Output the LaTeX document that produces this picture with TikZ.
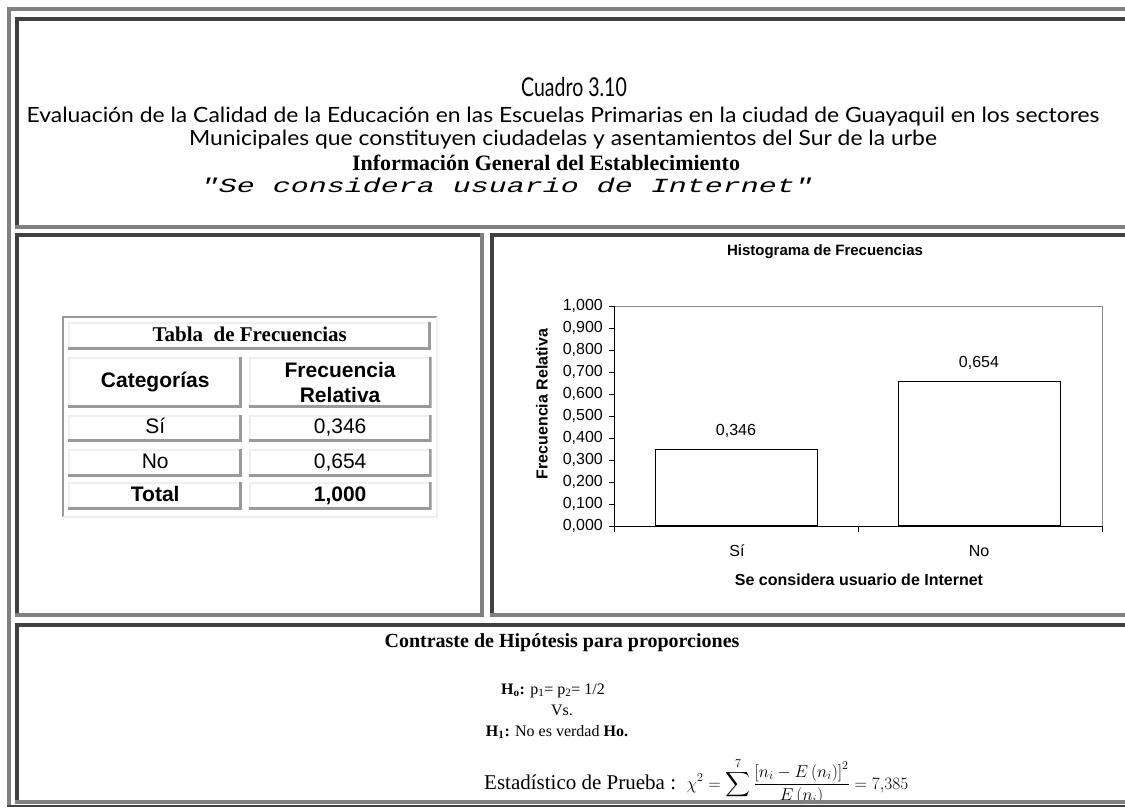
\documentclass[tikz,border=0pt]{standalone}
\usepackage{exscale}
\usepackage{fontspec}
\setmainfont{Liberation Serif}
\newfontfamily\arialfont{Liberation Sans}
\newfontfamily\courfont{Liberation Mono}
\newfontfamily\latofont{Lato}
\usetikzlibrary{positioning}

\definecolor{framegray}{HTML}{808080}
\definecolor{framedark}{HTML}{404040}
\definecolor{cellhi}{HTML}{EFEFEF}
\definecolor{celllo}{HTML}{9A9A9A}
\definecolor{plotgray}{HTML}{8C8C8C}

\tikzset{
  frameline/.style={line width=4pt},
  tcell/.style 2 args={minimum width=#1, minimum height=#2, inner sep=0pt,
    anchor=north west, fill=white, path picture={
      \draw[line width=2pt,cellhi] ([xshift=1pt]path picture bounding box.south west)
        |- ([yshift=-1pt]path picture bounding box.north east);
      \draw[line width=3pt,celllo] ([yshift=1.5pt]path picture bounding box.south west)
        -| ([xshift=-1.5pt]path picture bounding box.north east);
    }},
  onerow/.style={text height=15pt, text depth=5pt},
  celltext/.style={font=\arialfont\fontsize{21}{25}\selectfont, onerow},
  cellbold/.style={font=\arialfont\bfseries\fontsize{21}{25}\selectfont, onerow},
  charttext/.style={font=\arialfont\fontsize{16}{16}\selectfont},
  chartbold/.style={font=\arialfont\bfseries\fontsize{16}{16}\selectfont},
  bar/.style={draw, fill=white, line width=1pt, inner sep=0pt, minimum width=162pt, anchor=south},
  titlefont/.style={font=\latofont\fontsize{21}{21}\selectfont, anchor=base, xscale=1.09},
  bodyfont/.style={font=\fontsize{16}{16}\selectfont, anchor=base}
}

\begin{document}
\begin{tikzpicture}[x=1pt,y=-1pt,inner sep=0pt]
\useasboundingbox (0,0) rectangle (1125,807);
\fill[white] (0,0) rectangle (1125,807);

% encabezado
\node[font=\latofont\fontsize{26}{26}\selectfont, anchor=base, xscale=0.75] (cuadro) at (574,96) {Cuadro 3.10};
\node[titlefont] (titulo1) at (563,122) {Evaluación de la Calidad de la Educación en las Escuelas Primarias en la ciudad de Guayaquil en los sectores};
\node[titlefont] (titulo2) at (563,145) {Municipales que constituyen ciudadelas y asentamientos del Sur de la urbe};
\node[font=\bfseries\fontsize{22}{22}\selectfont, anchor=base] (info) at (546,170) {Información General del Establecimiento};
\node[font=\courfont\itshape\fontsize{20}{20}\selectfont, anchor=base, xscale=1.5] (pregunta) at (507,192) {"Se considera usuario de Internet"};

% tabla de frecuencias
\draw[line width=2pt,celllo] (63,517) -- (63,317) -- (437,317);
\draw[line width=2pt,cellhi] (63,517) -- (437,517) -- (437,317);
\node[tcell={363pt}{28pt}, font=\bfseries\fontsize{21}{21}\selectfont, onerow] (tabtitulo) at (68,322) {Tabla\ \ de Frecuencias};
\node[tcell={174pt}{51pt}, cellbold] (hcat) at (68,357) {Categorías};
\node[tcell={183pt}{51pt}, font=\arialfont\bfseries\fontsize{21}{25}\selectfont, align=center, right=6pt of hcat] (hfrec) {Frecuencia\\Relativa};
\node[tcell={174pt}{27pt}, celltext] (catsi) at (68,415) {Sí};
\node[tcell={183pt}{27pt}, celltext, right=6pt of catsi] (frecsi) {0,346};
\node[tcell={174pt}{28pt}, celltext] (catno) at (68,449) {No};
\node[tcell={183pt}{28pt}, celltext, right=6pt of catno] (frecno) {0,654};
\node[tcell={174pt}{28pt}, cellbold] (cattot) at (68,482) {Total};
\node[tcell={183pt}{28pt}, cellbold, right=6pt of cattot] (frectot) {1,000};

% histograma
\node[chartbold, font=\arialfont\bfseries\fontsize{15}{15}\selectfont] (histtitulo) at (825,252) {Histograma de Frecuencias};
\draw[plotgray] (614,306) -- (1102,306) -- (1102,526);
\foreach \i/\lab in {0/{0,000},1/{0,100},2/{0,200},3/{0,300},4/{0,400},5/{0,500},6/{0,600},7/{0,700},8/{0,800},9/{0,900},10/{1,000}}{
  \draw (609,526-22*\i) -- (614,526-22*\i);
  \node[charttext, anchor=east] (tick\i) at (603,526-22*\i) {\lab};
}
\node[bar, minimum height=76.1pt] (barsi) at (736,526) {};
\node[bar, minimum height=143.9pt] (barno) at (979,526) {};
\draw (614,306) -- (614,526) -- (1102,526);
\draw (614,526) -- (614,532) (858,526) -- (858,532) (1102,526) -- (1102,532);
\node[charttext, above=11pt of barsi] (valsi) {0,346};
\node[charttext, above=11pt of barno] (valno) {0,654};
\node[charttext] (ejesi) at (737,551) {Sí};
\node[charttext] (ejeno) at (979,551) {No};
\node[chartbold] (ejex) at (859,580) {Se considera usuario de Internet};
\node[chartbold, rotate=90] (ejey) at (542,404) {Frecuencia Relativa};

% contraste
\node[bodyfont, font=\bfseries\fontsize{20}{20}\selectfont] (contraste) at (562,647) {Contraste de Hipótesis para proporciones};
\node[bodyfont] (hnula) at (553,694) {\textbf{H\textsubscript{o}:} p\textsubscript{1}= p\textsubscript{2}= 1/2};
\node[bodyfont] (vs) at (562,715) {Vs.};
\node[bodyfont] (halt) at (557,736) {\textbf{H\textsubscript{1}:} No es verdad \textbf{Ho.}};
\node[bodyfont, font=\fontsize{21}{21}\selectfont, anchor=base west] (estad) at (484,789) {Estadístico de Prueba :\ \ {\fontsize{18}{18}\selectfont$\displaystyle\chi^2=\sum^{7}\frac{\left[n_i-E\left(n_i\right)\right]^2}{E\left(n_i\right)}=7{,}385$}};

% marcos
\draw[frameline,framegray] (9,807) -- (9,8.5) -- (1125,8.5);
\draw[line width=1.5pt,framedark] (7,806.2) -- (1125,806.2);
\draw[frameline,framedark] (17,229) -- (17,18.5) -- (1125,18.5);
\draw[frameline,framegray] (15,227) -- (1125,227);
\draw[frameline,framedark] (17,617) -- (17,234.5) -- (484,234.5);
\draw[frameline,framegray] (15,615) -- (482,615) -- (482,233);
\draw[frameline,framedark] (492,617) -- (492,234.5) -- (1125,234.5);
\draw[frameline,framegray] (490,615) -- (1125,615);
\draw[frameline,framedark] (17,804) -- (17,625) -- (1125,625);
\draw[frameline,framegray] (15,802) -- (1125,802);

\end{tikzpicture}
\end{document}
